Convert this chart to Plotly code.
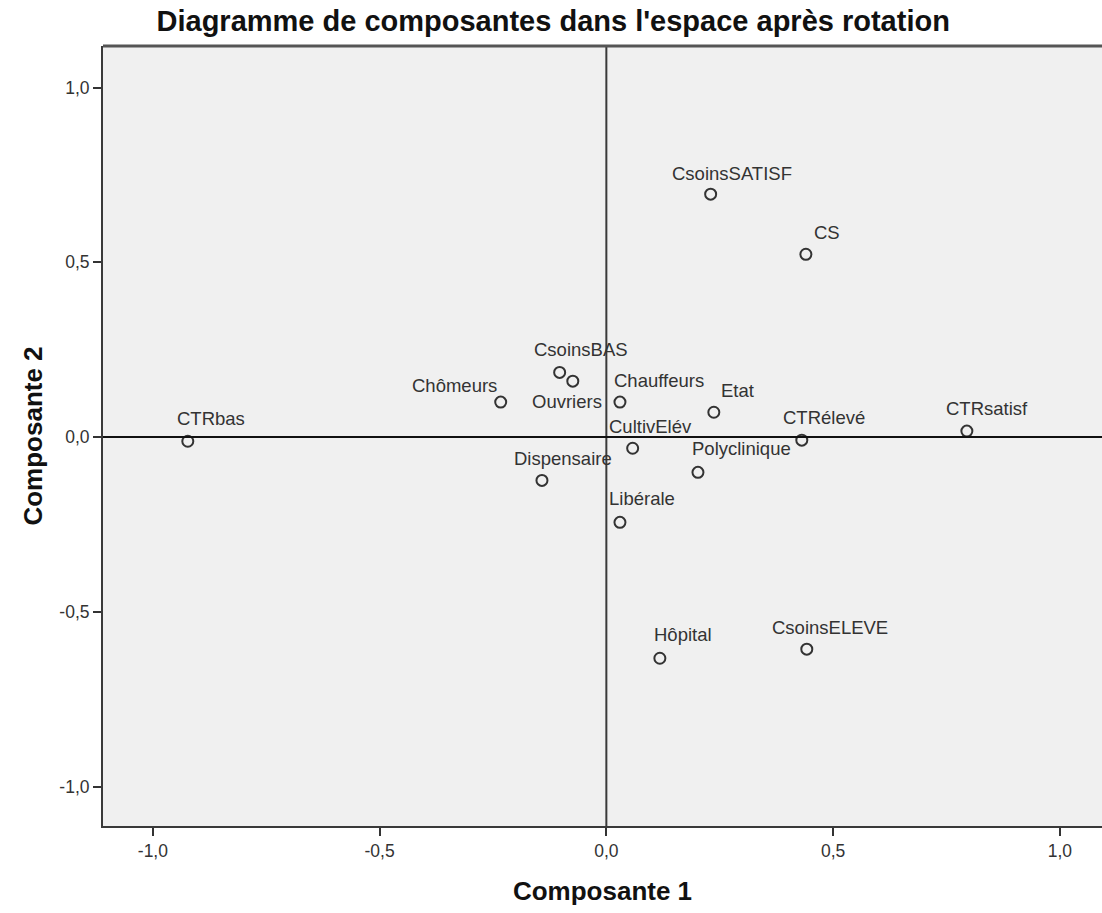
import plotly.graph_objects as go

# Rotated component loadings (Composante 1, Composante 2)
variables = ["CTRbas", "Chômeurs", "CsoinsBAS", "Ouvriers", "Chauffeurs", "Etat",
             "CultivElév", "Dispensaire", "Polyclinique", "Libérale", "CTRélevé",
             "CTRsatisf", "CsoinsSATISF", "CS", "Hôpital", "CsoinsELEVE"]
comp1 = [-0.923, -0.233, -0.103, -0.074, 0.030, 0.237,
         0.058, -0.142, 0.202, 0.030, 0.431,
         0.795, 0.230, 0.440, 0.118, 0.442]
comp2 = [-0.012, 0.100, 0.185, 0.160, 0.100, 0.071,
         -0.032, -0.124, -0.101, -0.244, -0.009,
         0.017, 0.695, 0.523, -0.633, -0.607]
tick_vals = [-1.0, -0.5, 0.0, 0.5, 1.0]
tick_text = [f"{v:.1f}".replace(".", ",") for v in tick_vals]

# Pixel offsets of each label (left edge, vertical centre) from its marker
label_offsets = {
    "CTRbas": (-13, -23), "Chômeurs": (-91, -17), "CsoinsBAS": (-28, -23),
    "Ouvriers": (-43, 20), "Chauffeurs": (-8, -22), "Etat": (5, -22),
    "CultivElév": (-26, -22), "Dispensaire": (-30, -22), "Polyclinique": (-8, -24),
    "Libérale": (-13, -24), "CTRélevé": (-21, -23), "CTRsatisf": (-23, -23),
    "CsoinsSATISF": (-41, -21), "CS": (6, -22), "Hôpital": (-8, -24),
    "CsoinsELEVE": (-37, -22),
}

FONT = "Liberation Sans, Arial, sans-serif"
DARK = "#333333"

fig = go.Figure()
fig.add_trace(go.Scatter(
    x=comp1, y=comp2, mode="markers",
    marker=dict(symbol="circle-open", size=11, color=DARK, line=dict(width=2, color=DARK)),
    hovertext=variables, showlegend=False,
))

for name, xv, yv in zip(variables, comp1, comp2):
    dx, dy = label_offsets[name]
    fig.add_annotation(
        x=xv, y=yv, xref="x", yref="y", text=name, showarrow=False,
        xanchor="left", yanchor="middle", xshift=dx, yshift=-dy,
        font=dict(family=FONT, size=18.5, color=DARK),
    )

# Reference lines through the origin
fig.add_shape(type="line", xref="x", yref="paper", x0=0, x1=0, y0=0, y1=1,
              line=dict(color="#3a3a3a", width=2))
fig.add_shape(type="line", xref="paper", yref="y", x0=0, x1=1, y0=0, y1=0,
              line=dict(color="#111111", width=2))
# Top edge of the plot frame
fig.add_shape(type="line", xref="paper", yref="paper", x0=0, x1=1, y0=1, y1=1,
              line=dict(color="#555555", width=3))

axis_common = dict(
    tickvals=tick_vals, ticktext=tick_text, ticks="outside", ticklen=8, tickwidth=2,
    tickcolor=DARK, showgrid=False, zeroline=False, showline=True, linecolor="#3a3a3a",
    linewidth=2, mirror=False, tickfont=dict(family=FONT, size=17.5, color=DARK),
)

fig.update_layout(
    width=1102, height=913,
    margin=dict(l=103, r=0, t=46, b=87),
    paper_bgcolor="white", plot_bgcolor="#F0F0F0",
    title=dict(text="<b>Diagramme de composantes dans l'espace après rotation</b>",
               x=0.502, xanchor="center", y=0.977, yanchor="middle",
               font=dict(family=FONT, size=29, color="#111111")),
    xaxis=dict(range=[-1.110, 1.093],
               title=dict(text="<b>Composante 1</b>", standoff=22,
                          font=dict(family=FONT, size=26, color="#111111")),
               **axis_common),
    yaxis=dict(range=[-1.113, 1.119],
               title=dict(text="<b>Composante 2</b>", standoff=9,
                          font=dict(family=FONT, size=26, color="#111111")),
               **axis_common),
)

fig.write_html("out.html")
